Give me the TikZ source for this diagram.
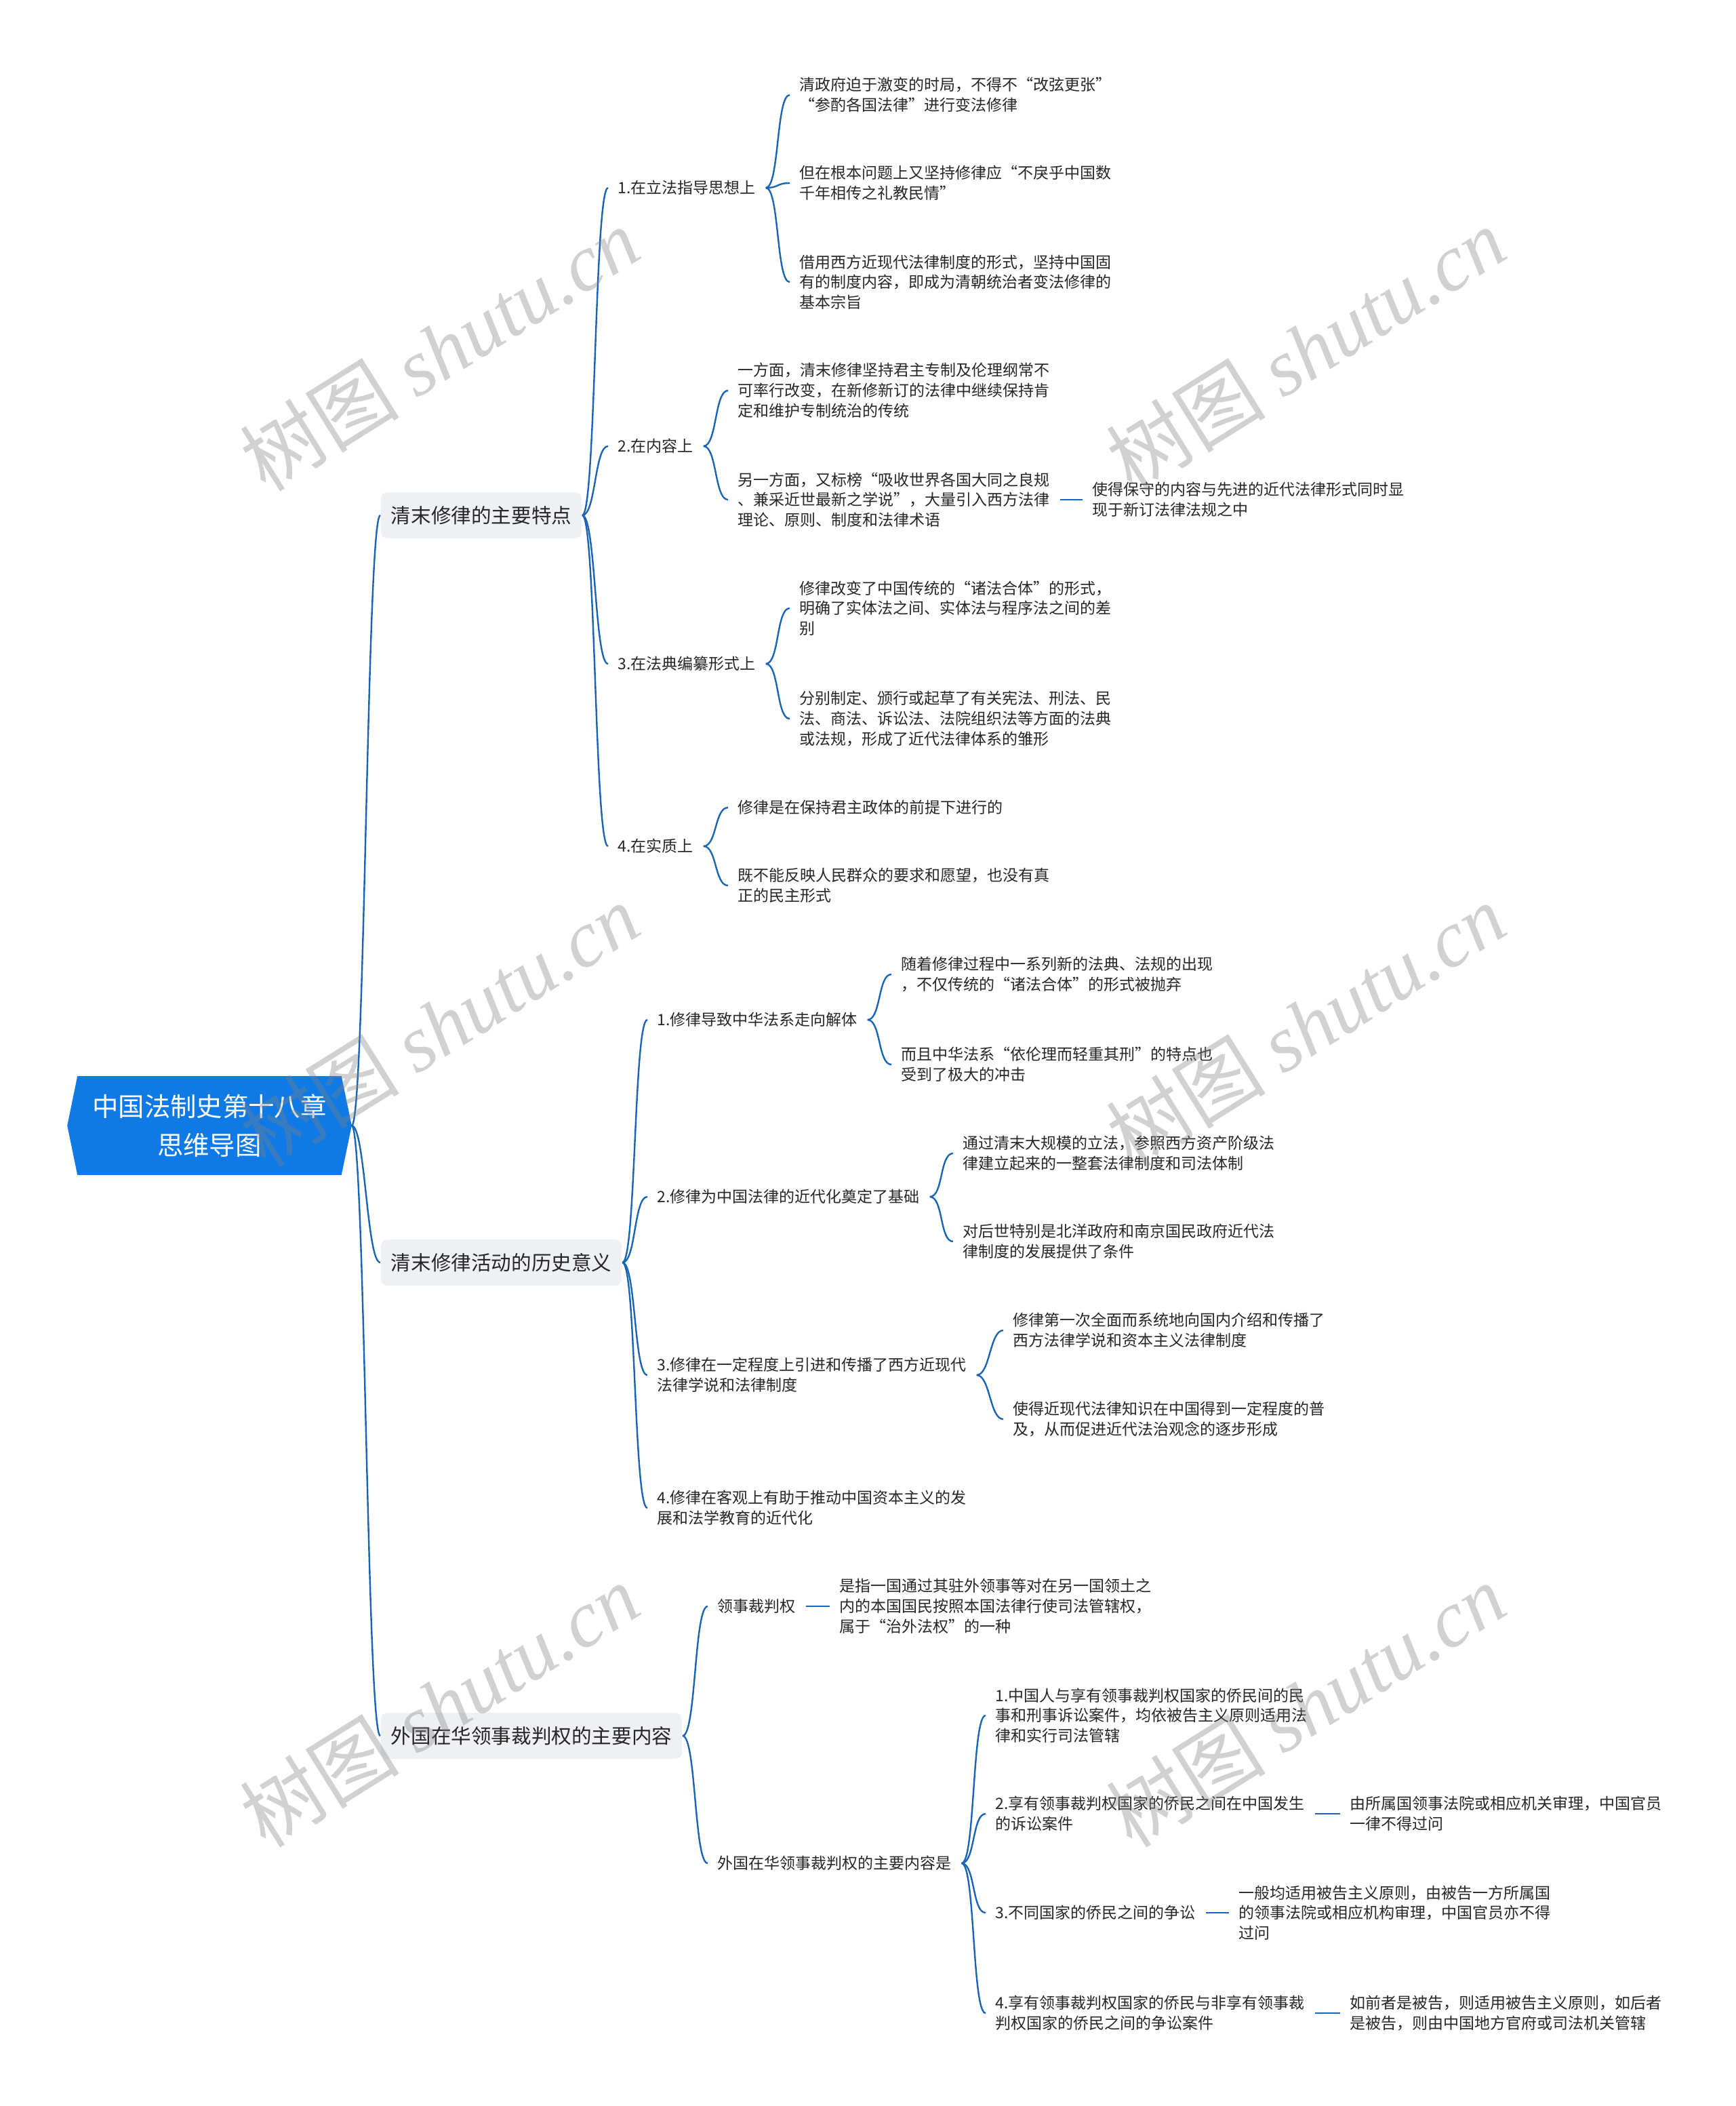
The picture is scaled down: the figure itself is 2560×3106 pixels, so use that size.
\documentclass[tikz,border=0pt]{standalone}
\usepackage{fontspec}
\setmainfont{Noto Sans CJK SC}
\newfontfamily\wmlat{Liberation Serif}
\usetikzlibrary{backgrounds}
\definecolor{lineblue}{HTML}{1964B4}
\definecolor{rootblue}{HTML}{0F7AE5}
\definecolor{lonefill}{HTML}{EEF0F3}
\definecolor{txt}{HTML}{262626}
\tikzset{
  conn/.style={draw=lineblue, line width=0.6pt},
  cv/.style={out=0, in=180, out distance=5pt, in distance=5pt},
  leaf/.style={anchor=west, align=left, inner xsep=3.5pt, inner ysep=1pt, text=txt,
    font=\fontsize{5.75pt}{7.45pt}\selectfont},
  lone/.style={anchor=west, fill=lonefill, rounded corners=2.5pt, inner xsep=3.75pt,
    minimum height=17pt, text=txt, font=\fontsize{7.4pt}{9pt}\selectfont},
  wmark/.style={rotate=32, text=gray, opacity=0.36, font=\fontsize{29.5pt}{29.5pt}\selectfont}
}
\begin{document}
\begin{tikzpicture}[x=0.25pt, y=-0.25pt]
\useasboundingbox (0,0) rectangle (2560,3106);

% root
\node (root) [minimum width=104.5pt, minimum height=36pt, inner sep=0pt, align=center,
  text=white, font=\fontsize{9.6pt}{14.25pt}\selectfont] at (309,1660)
  {中国法制史第十八章\\思维导图};
\begin{scope}[on background layer]
\fill[rootblue] (root.west) -- ([xshift=3.75pt]root.north west) -- ([xshift=-3.75pt]root.north east)
  -- (root.east) -- ([xshift=-3.75pt]root.south east) -- ([xshift=3.75pt]root.south west) -- cycle;
\end{scope}

% level 1
\node (A) [lone] at (561,760) {清末修律的主要特点};
\node (B) [lone] at (561,1862) {清末修律活动的历史意义};
\node (C) [lone] at (561,2560) {外国在华领事裁判权的主要内容};

% branch A
\node (A1) [leaf] at (897,277) {1.在立法指导思想上};
\node (A1a) [leaf] at (1165,140) {清政府迫于激变的时局，不得不“改弦更张”\\“参酌各国法律”进行变法修律};
\node (A1b) [leaf] at (1165,270) {但在根本问题上又坚持修律应“不戾乎中国数\\千年相传之礼教民情”};
\node (A1c) [leaf] at (1165,416) {借用西方近现代法律制度的形式，坚持中国固\\有的制度内容，即成为清朝统治者变法修律的\\基本宗旨};
\node (A2) [leaf] at (897,658) {2.在内容上};
\node (A2a) [leaf] at (1074,576) {一方面，清末修律坚持君主专制及伦理纲常不\\可率行改变，在新修新订的法律中继续保持肯\\定和维护专制统治的传统};
\node (A2b) [leaf] at (1074,737) {另一方面，又标榜“吸收世界各国大同之良规\\、兼采近世最新之学说”，大量引入西方法律\\理论、原则、制度和法律术语};
\node (A2b1) [leaf] at (1597,737) {使得保守的内容与先进的近代法律形式同时显\\现于新订法律法规之中};
\node (A3) [leaf] at (897,979) {3.在法典编纂形式上};
\node (A3a) [leaf] at (1165,897) {修律改变了中国传统的“诸法合体”的形式，\\明确了实体法之间、实体法与程序法之间的差\\别};
\node (A3b) [leaf] at (1165,1060) {分别制定、颁行或起草了有关宪法、刑法、民\\法、商法、诉讼法、法院组织法等方面的法典\\或法规，形成了近代法律体系的雏形};
\node (A4) [leaf] at (897,1248) {4.在实质上};
\node (A4a) [leaf] at (1074,1191) {修律是在保持君主政体的前提下进行的};
\node (A4b) [leaf] at (1074,1306) {既不能反映人民群众的要求和愿望，也没有真\\正的民主形式};

% branch B
\node (B1) [leaf] at (955,1504) {1.修律导致中华法系走向解体};
\node (B1a) [leaf] at (1315,1437) {随着修律过程中一系列新的法典、法规的出现\\，不仅传统的“诸法合体”的形式被抛弃};
\node (B1b) [leaf] at (1315,1570) {而且中华法系“依伦理而轻重其刑”的特点也\\受到了极大的冲击};
\node (B2) [leaf] at (955,1765) {2.修律为中国法律的近代化奠定了基础};
\node (B2a) [leaf] at (1406,1701) {通过清末大规模的立法，参照西方资产阶级法\\律建立起来的一整套法律制度和司法体制};
\node (B2b) [leaf] at (1406,1831) {对后世特别是北洋政府和南京国民政府近代法\\律制度的发展提供了条件};
\node (B3) [leaf] at (955,2028) {3.修律在一定程度上引进和传播了西方近现代\\法律学说和法律制度};
\node (B3a) [leaf] at (1480,1962) {修律第一次全面而系统地向国内介绍和传播了\\西方法律学说和资本主义法律制度};
\node (B3b) [leaf] at (1480,2093) {使得近现代法律知识在中国得到一定程度的普\\及，从而促进近代法治观念的逐步形成};
\node (B4) [leaf] at (955,2224) {4.修律在客观上有助于推动中国资本主义的发\\展和法学教育的近代化};

% branch C
\node (C1) [leaf] at (1044,2369) {领事裁判权};
\node (C1a) [leaf] at (1224,2369) {是指一国通过其驻外领事等对在另一国领土之\\内的本国国民按照本国法律行使司法管辖权，\\属于“治外法权”的一种};
\node (C2) [leaf] at (1044,2748) {外国在华领事裁判权的主要内容是};
\node (C2a) [leaf] at (1454,2530) {1.中国人与享有领事裁判权国家的侨民间的民\\事和刑事诉讼案件，均依被告主义原则适用法\\律和实行司法管辖};
\node (C2b) [leaf] at (1454,2675) {2.享有领事裁判权国家的侨民之间在中国发生\\的诉讼案件};
\node (C2b1) [leaf] at (1977,2675) {由所属国领事法院或相应机关审理，中国官员\\一律不得过问};
\node (C2c) [leaf] at (1454,2821) {3.不同国家的侨民之间的争讼};
\node (C2c1) [leaf] at (1813,2821) {一般均适用被告主义原则，由被告一方所属国\\的领事法院或相应机构审理，中国官员亦不得\\过问};
\node (C2d) [leaf] at (1454,2969) {4.享有领事裁判权国家的侨民与非享有领事裁\\判权国家的侨民之间的争讼案件};
\node (C2d1) [leaf] at (1977,2969) {如前者是被告，则适用被告主义原则，如后者\\是被告，则由中国地方官府或司法机关管辖};

% connectors
\foreach \p/\c in {root/A, root/B, root/C,
  A/A1, A/A2, A/A3, A/A4,
  A1/A1a, A1/A1b, A1/A1c, A2/A2a, A2/A2b, A3/A3a, A3/A3b, A4/A4a, A4/A4b,
  B/B1, B/B2, B/B3, B/B4,
  B1/B1a, B1/B1b, B2/B2a, B2/B2b, B3/B3a, B3/B3b,
  C/C1, C/C2, C2/C2a, C2/C2b, C2/C2c, C2/C2d}
  \draw[conn] (\p.east) to[cv] (\c.west);
\foreach \p/\c in {A2b/A2b1, C1/C1a, C2b/C2b1, C2c/C2c1, C2d/C2d1}
  \draw[conn] (\p.east) -- (\c.west);

% watermarks
\foreach \n/\x/\y in {1/648/515, 2/1926/515, 3/648/1512, 4/1926/1512, 5/648/2515, 6/1926/2515}
  \node (wm\n) [wmark] at (\x,\y) {树图 {\wmlat\itshape shutu.cn}};
\end{tikzpicture}
\end{document}
